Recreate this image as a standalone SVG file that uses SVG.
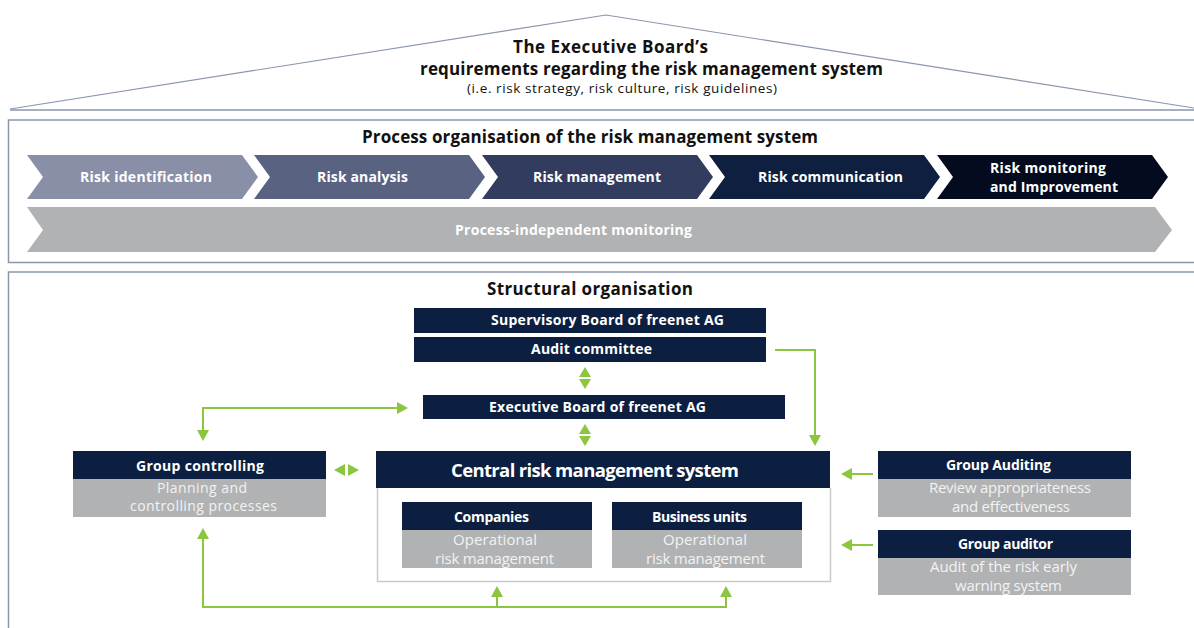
<svg xmlns="http://www.w3.org/2000/svg" width="1194" height="628" viewBox="0 0 1194 628">
<defs>
<style>
.t{font-family:"Open Sans","Noto Sans","Liberation Sans",sans-serif;}
.h{font-weight:700;fill:#111;font-size:17px;}
.sub{font-size:13.5px;fill:#111;}
.cv{font-weight:700;fill:#fff;font-size:14px;}
.nt{font-weight:700;fill:#fff;font-size:14px;}
.gt{fill:#f2f2f2;font-size:15px;}
.gs{font-size:14px;}
.dark{fill:#0c1f40;}
.grey{fill:#b1b2b4;}
.frame{fill:none;stroke:#8a96ab;stroke-width:1.5;}
.ln{fill:none;stroke:#8cc63f;stroke-width:2;}
.ah{fill:#8cc63f;}
</style>
</defs>
<g id="roof">
<polyline points="10,109 606,15 1194,108" fill="none" stroke="#8a96ab" stroke-width="1.2"/>
<line x1="10" y1="110" x2="1194" y2="110" stroke="#8a96ab" stroke-width="1.5"/>
<text class="t h" x="513" y="53" textLength="195">The Executive Board’s</text>
<text class="t h" x="420" y="75" textLength="463">requirements regarding the risk management system</text>
<text class="t sub" x="467" y="93" textLength="310">(i.e. risk strategy, risk culture, risk guidelines)</text>
</g>
<g id="process">
<path class="frame" d="M1196,120 H8.5 V262.5 H1196"/>
<text class="t h" x="362" y="143" textLength="456">Process organisation of the risk management system</text>
<g id="chev1"><polygon points="27,155 242,155 258,177 242,199 27,199 43,177" fill="#8a8fa8"/><text class="t cv" x="80" y="182" textLength="132">Risk identification</text></g>
<g id="chev2"><polygon points="254,155 469,155 485,177 469,199 254,199 270,177" fill="#5a6282"/><text class="t cv" x="317" y="182" textLength="91">Risk analysis</text></g>
<g id="chev3"><polygon points="482,155 697,155 713,177 697,199 482,199 498,177" fill="#323c5e"/><text class="t cv" x="533" y="182" textLength="128">Risk management</text></g>
<g id="chev4"><polygon points="709,155 924,155 940,177 924,199 709,199 725,177" fill="#0e1f40"/><text class="t cv" x="758" y="182" textLength="145">Risk communication</text></g>
<g id="chev5"><polygon points="937,155 1152,155 1168,177 1152,199 937,199 953,177" fill="#050b1e"/><text class="t cv" x="990" y="173" textLength="116">Risk monitoring</text><text class="t cv" x="990" y="192" textLength="128">and Improvement</text></g>
<g id="monitoring"><polygon points="27,207 1155,207 1172,230 1155,252 27,252 43,230" fill="#b1b2b4"/><text class="t cv" x="455" y="235" textLength="237">Process-independent monitoring</text></g>
</g>
<g id="structural">
<path class="frame" d="M1196,272 H8.5 V630"/>
<text class="t h" x="487" y="295" textLength="206">Structural organisation</text>
</g>
<g id="supervisory"><rect class="dark" x="414" y="308" width="352" height="25"/><text class="t nt" x="491" y="325" textLength="233">Supervisory Board of freenet AG</text></g>
<g id="audit-committee"><rect class="dark" x="414" y="337" width="352" height="25"/><text class="t nt" x="531" y="354" textLength="121">Audit committee</text></g>
<g id="executive"><rect class="dark" x="423" y="395" width="362" height="24"/><text class="t nt" x="489" y="412" textLength="217">Executive Board of freenet AG</text></g>
<g id="central">
<polyline points="377.5,488 377.5,581.5 830.5,581.5 830.5,488" fill="none" stroke="#c9c9c9" stroke-width="1.5"/>
<rect class="dark" x="376" y="451" width="454" height="37"/>
<text class="t" x="451" y="477" textLength="288" font-size="18.5" font-weight="700" fill="#fff">Central risk management system</text>
</g>
<g id="companies"><rect class="dark" x="402" y="502" width="190" height="28"/><rect class="grey" x="402" y="530" width="190" height="38"/><text class="t nt" x="454" y="522" textLength="75">Companies</text><text class="t gt" x="453" y="545" textLength="84">Operational</text><text class="t gt" x="435" y="564" textLength="119">risk management</text></g>
<g id="business-units"><rect class="dark" x="612" y="502" width="190" height="28"/><rect class="grey" x="612" y="530" width="190" height="38"/><text class="t nt" x="652" y="522" textLength="95">Business units</text><text class="t gt" x="663" y="545" textLength="84">Operational</text><text class="t gt" x="646" y="564" textLength="119">risk management</text></g>
<g id="group-controlling"><rect class="dark" x="73" y="451" width="253" height="28"/><rect class="grey" x="73" y="479" width="253" height="38"/><text class="t nt" x="136" y="471" textLength="128">Group controlling</text><text class="t gt gs" x="157" y="493" textLength="90">Planning and</text><text class="t gt gs" x="130" y="510.5" textLength="147">controlling processes</text></g>
<g id="group-auditing"><rect class="dark" x="878" y="451" width="253" height="28"/><rect class="grey" x="878" y="479" width="253" height="38"/><text class="t nt" x="946" y="470" textLength="105">Group Auditing</text><text class="t gt" x="929" y="493" textLength="162">Review appropriateness</text><text class="t gt" x="952" y="512" textLength="118">and effectiveness</text></g>
<g id="group-auditor"><rect class="dark" x="878" y="530" width="253" height="28"/><rect class="grey" x="878" y="558" width="253" height="37"/><text class="t nt" x="958" y="549" textLength="95">Group auditor</text><text class="t gt" x="930" y="572" textLength="147">Audit of the risk early</text><text class="t gt" x="955" y="591" textLength="107">warning system</text></g>
<g id="connectors">
<polyline class="ln" points="775,350 815,350 815,436"/>
<polygon class="ah" points="809,435 821,435 815,446"/>
<polygon class="ah" points="579,377 591,377 585,367"/>
<polygon class="ah" points="579,379 591,379 585,389"/>
<polygon class="ah" points="579,434 591,434 585,424"/>
<polygon class="ah" points="579,436 591,436 585,446"/>
<polyline class="ln" points="203,432 203,408 398,408"/>
<polygon class="ah" points="197,430 209,430 203,441"/>
<polygon class="ah" points="397,402 397,414 408,408"/>
<polygon class="ah" points="345,464 345,476 334,470"/>
<polygon class="ah" points="348,464 348,476 359,470"/>
<polyline class="ln" points="873,474 851,474"/>
<polygon class="ah" points="852,468 852,480 841,474"/>
<polyline class="ln" points="873,545 851,545"/>
<polygon class="ah" points="852,539 852,551 841,545"/>
<polyline class="ln" points="203,538 203,607 726,607 726,596"/>
<line class="ln" x1="497" y1="607" x2="497" y2="596"/>
<polygon class="ah" points="197,539 209,539 203,528"/>
<polygon class="ah" points="491,597 503,597 497,586"/>
<polygon class="ah" points="720,597 732,597 726,586"/>
</g>
</svg>
